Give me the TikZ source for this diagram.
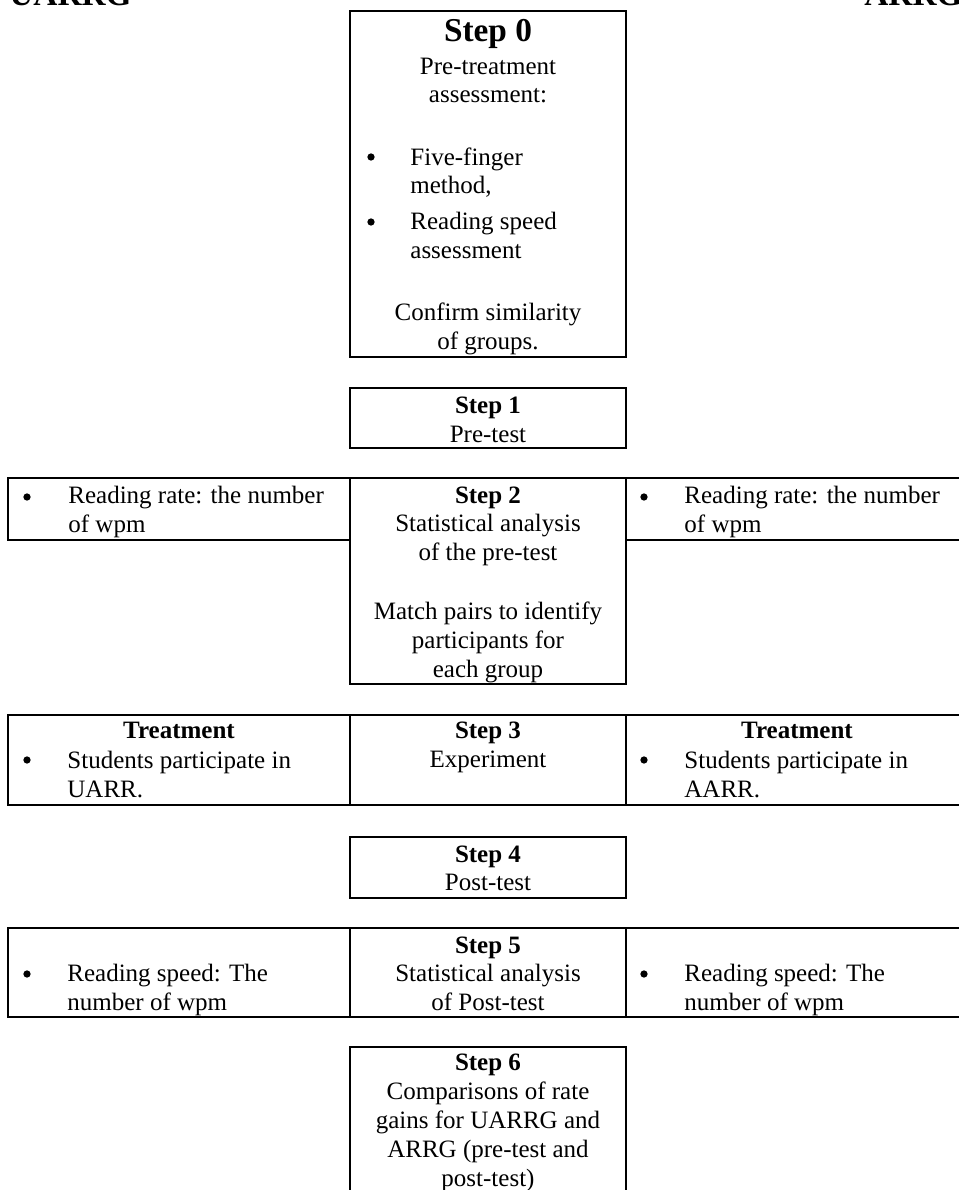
\documentclass[tikz,border=0pt]{standalone}
\usepackage{fontspec}
\setmainfont{Liberation Serif}
\usetikzlibrary{fit}

\begin{document}
\begin{tikzpicture}[
    x=0.48pt, y=-0.48pt,
    every node/.style={inner sep=0pt},
    box/.style={draw, line width=0.9pt},
    body/.style={font=\fontsize{12}{13.8}\selectfont, align=center, anchor=base},
    steplabel/.style={font=\fontsize{12}{13.8}\selectfont\bfseries, anchor=base},
    biglabel/.style={font=\fontsize{16}{19}\selectfont\bfseries, anchor=base},
    bullet/.style={circle, fill, minimum size=3.5pt},
    item/.style={font=\fontsize{12}{13.8}\selectfont, align=left, anchor=base west},
]
\useasboundingbox (0,0) rectangle (958,1190);
% multi-line texts are placed at the baseline of their last line
\node[biglabel, anchor=base west] (uarrg) at (9,6) {UARRG};
\node[biglabel, anchor=base west] (arrg) at (864,6) {ARRG};
% step 0
\node[box, fit={(350,11) (626,357)}] (step0) {};
\node[biglabel] (s0head) at (488,42) {Step 0};
\node[body] (s0pre) at (488,103) {Pre-treatment\\assessment:};
\node[bullet] (s0dota) at (371,157) {};
\node[item] (s0five) at (410,194) {Five-finger\\method,};
\node[bullet] (s0dotb) at (371,222) {};
\node[item] (s0speed) at (410,258) {Reading speed\\assessment};
\node[body] (s0conf) at (488,349) {Confirm similarity\\of groups.};
% step 1
\node[box, fit={(350,388) (626,448)}] (step1) {};
\node[steplabel] (s1head) at (488,413) {Step 1};
\node[body] (s1text) at (488,442) {Pre-test};
% step 2
\node[box, fit={(8,478) (350,540)}] (rateL) {};
\node[box, fit={(350,478) (626,684)}] (step2) {};
\node[box, fit={(626,478) (968,540)}] (rateR) {};
\node[bullet] (rLdot) at (27,497) {};
\node[item] (rLtext) at (68,532) {Reading rate: the number\\of wpm};
\node[steplabel] (s2head) at (488,503) {Step 2};
\node[body] (s2stat) at (488,560) {Statistical analysis\\of the pre-test};
\node[body] (s2match) at (488,677) {Match pairs to identify\\participants for\\each group};
\node[bullet] (rRdot) at (644,497) {};
\node[item] (rRtext) at (684,532) {Reading rate: the number\\of wpm};
% step 3
\node[box, fit={(8,715) (350,805)}] (treatL) {};
\node[box, fit={(350,715) (626,805)}] (step3) {};
\node[box, fit={(626,715) (968,805)}] (treatR) {};
\node[steplabel] (tLhead) at (179,738) {Treatment};
\node[bullet] (tLdot) at (27,760) {};
\node[item] (tLtext) at (67,797) {Students participate in\\UARR.};
\node[steplabel] (s3head) at (488,738) {Step 3};
\node[body] (s3text) at (488,767) {Experiment};
\node[steplabel] (tRhead) at (797,738) {Treatment};
\node[bullet] (tRdot) at (644,760) {};
\node[item] (tRtext) at (684,797) {Students participate in\\AARR.};
% step 4
\node[box, fit={(350,837) (626,898)}] (step4) {};
\node[steplabel] (s4head) at (488,862) {Step 4};
\node[body] (s4text) at (488,890) {Post-test};
% step 5
\node[box, fit={(8,928) (350,1017)}] (speedL) {};
\node[box, fit={(350,928) (626,1017)}] (step5) {};
\node[box, fit={(626,928) (968,1017)}] (speedR) {};
\node[bullet] (sLdot) at (27,974) {};
\node[item] (sLtext) at (67,1010) {Reading speed: The\\number of wpm};
\node[steplabel] (s5head) at (488,953) {Step 5};
\node[body] (s5text) at (488,1010) {Statistical analysis\\of Post-test};
\node[bullet] (sRdot) at (644,974) {};
\node[item] (sRtext) at (684,1010) {Reading speed: The\\number of wpm};
% step 6
\node[box, fit={(350,1047) (626,1210)}] (step6) {};
\node[steplabel] (s6head) at (488,1070) {Step 6};
\node[body] (s6text) at (488,1186) {Comparisons of rate\\gains for UARRG and\\ARRG (pre-test and\\post-test)};
\end{tikzpicture}
\end{document}
